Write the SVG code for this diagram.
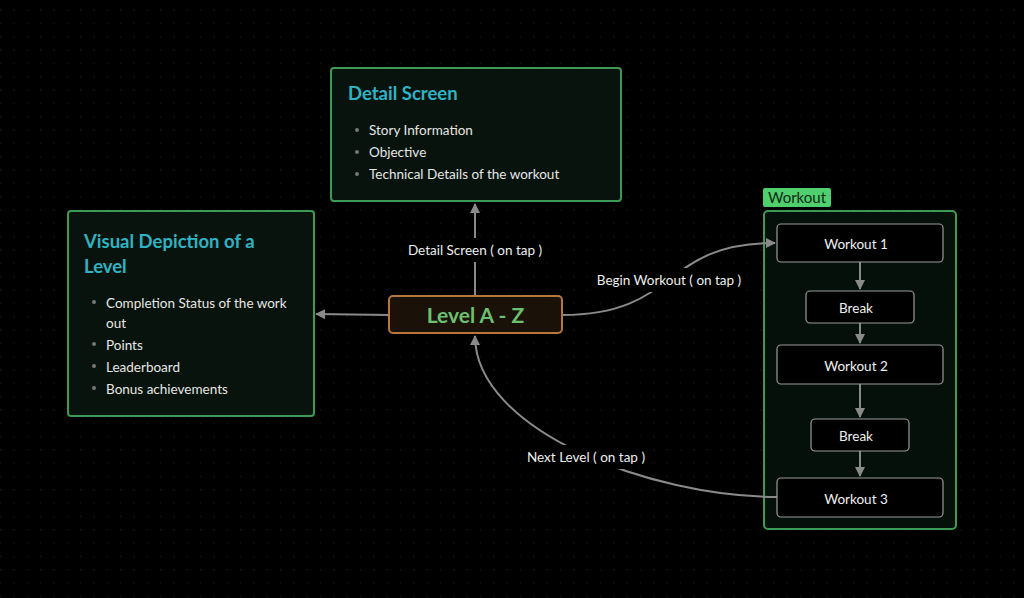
<svg xmlns="http://www.w3.org/2000/svg" width="1024" height="598" viewBox="0 0 1024 598">
<style>
.card{fill:#08130d;stroke:#3c9a55;stroke-width:2}
.title{font-family:Lato,"Open Sans",sans-serif;font-weight:bold;font-size:18.5px;fill:#2eb3c4}
.item{font-family:Lato,"Open Sans",sans-serif;font-size:13.5px;fill:#e6e6e6}
.dot{fill:#777}
.wk{fill:#000;stroke:#9a9a9a;stroke-width:1.2}
.wt{font-family:Lato,"Open Sans",sans-serif;font-size:13.5px;fill:#f0f0f0;text-anchor:middle}
.conn{fill:none;stroke:#8a8a8a;stroke-width:2}
.lbl{font-family:Lato,"Open Sans",sans-serif;font-size:13.5px;fill:#eeeeee;text-anchor:middle}
.lblbg{fill:#000}
</style>
<defs>
<pattern id="grid" width="13.33" height="13.33" patternUnits="userSpaceOnUse" x="0" y="3.5">
<circle cx="0.8" cy="6.5" r="0.7" fill="#1f1f1f"/>
</pattern>
<marker id="arr" viewBox="0 0 10 10" refX="9" refY="5" markerWidth="5" markerHeight="5" orient="auto-start-reverse">
<path d="M0,0 L10,5 L0,10 z" fill="#8a8a8a"/>
</marker>
</defs>
<rect width="1024" height="598" fill="#000"/>
<rect width="1024" height="598" fill="url(#grid)"/>

<g id="group-workout">
<rect x="764" y="211" width="192" height="318" rx="4" fill="#06100a" stroke="#3c9a55" stroke-width="2"/>
<rect x="763" y="188" width="68" height="19" rx="2" fill="#4fcf6e"/>
<text x="797" y="203" font-family="Lato,'Open Sans',sans-serif" font-size="15" fill="#0b2a14" text-anchor="middle">Workout</text>
</g>

<g id="connectors">
<line class="conn" x1="475" y1="296" x2="475" y2="204" marker-end="url(#arr)"/>
<line class="conn" x1="389" y1="315" x2="316" y2="314" marker-end="url(#arr)"/>
<path class="conn" d="M562,315 C680,315 660,243 775,243" marker-end="url(#arr)"/>
<path class="conn" d="M777,497 C650,497 475,430 475,336" marker-end="url(#arr)"/>
<line class="conn" x1="860" y1="262" x2="860" y2="289" marker-end="url(#arr)"/>
<line class="conn" x1="860" y1="323" x2="860" y2="343" marker-end="url(#arr)"/>
<line class="conn" x1="860" y1="384" x2="860" y2="417" marker-end="url(#arr)"/>
<line class="conn" x1="860" y1="451" x2="860" y2="476" marker-end="url(#arr)"/>
<rect class="lblbg" x="403" y="238" width="144" height="24"/>
<text class="lbl" x="475" y="255">Detail Screen ( on tap )</text>
<rect class="lblbg" x="592" y="268" width="154" height="24"/>
<text class="lbl" x="669" y="285">Begin Workout ( on tap )</text>
<rect class="lblbg" x="522" y="445" width="128" height="24"/>
<text class="lbl" x="586" y="462">Next Level ( on tap )</text>
</g>

<g id="node-detail">
<rect class="card" x="331" y="68" width="290" height="133" rx="3"/>
<text class="title" x="348" y="100">Detail Screen</text>
<circle class="dot" cx="357" cy="130" r="2"/>
<text class="item" x="369" y="135">Story Information</text>
<circle class="dot" cx="357" cy="152" r="2"/>
<text class="item" x="369" y="157">Objective</text>
<circle class="dot" cx="357" cy="174" r="2"/>
<text class="item" x="369" y="179">Technical Details of the workout</text>
</g>

<g id="node-visual">
<rect class="card" x="68" y="211" width="246" height="205" rx="3"/>
<text class="title" x="84" y="248">Visual Depiction of a</text>
<text class="title" x="84" y="273">Level</text>
<circle class="dot" cx="94" cy="302" r="2"/>
<text class="item" x="106" y="308">Completion Status of the work</text>
<text class="item" x="106" y="328">out</text>
<circle class="dot" cx="94" cy="344" r="2"/>
<text class="item" x="106" y="350">Points</text>
<circle class="dot" cx="94" cy="366" r="2"/>
<text class="item" x="106" y="372">Leaderboard</text>
<circle class="dot" cx="94" cy="388" r="2"/>
<text class="item" x="106" y="394">Bonus achievements</text>
</g>

<g id="node-level">
<rect x="389" y="296" width="173" height="37" rx="4" fill="#1a1209" stroke="#b5773a" stroke-width="2"/>
<text x="475.5" y="323" font-family="Lato,'Open Sans',sans-serif" font-size="21" font-weight="bold" fill="#6cc070" text-anchor="middle">Level A - Z</text>
</g>

<g id="node-workout1">
<rect class="wk" x="777" y="224" width="166" height="38" rx="4"/>
<text class="wt" x="856" y="249">Workout 1</text>
</g>
<g id="node-break1">
<rect class="wk" x="806" y="291" width="108" height="32" rx="4"/>
<text class="wt" x="856" y="313">Break</text>
</g>
<g id="node-workout2">
<rect class="wk" x="777" y="345" width="166" height="39" rx="4"/>
<text class="wt" x="856" y="371">Workout 2</text>
</g>
<g id="node-break2">
<rect class="wk" x="811" y="419" width="98" height="32" rx="4"/>
<text class="wt" x="856" y="441">Break</text>
</g>
<g id="node-workout3">
<rect class="wk" x="777" y="478" width="166" height="39" rx="4"/>
<text class="wt" x="856" y="504">Workout 3</text>
</g>
</svg>
